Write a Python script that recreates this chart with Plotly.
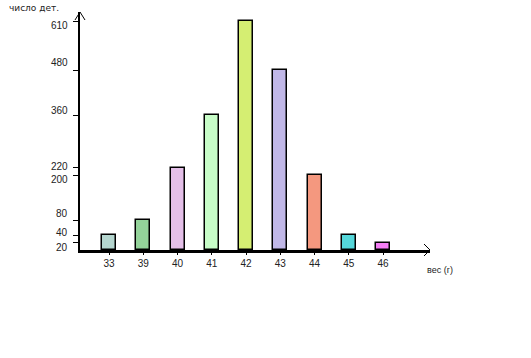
import plotly.graph_objects as go

categories = ["33", "39", "40", "41", "42", "43", "44", "45", "46"]
counts = [40, 80, 220, 360, 610, 480, 200, 40, 20]
colors = ["#b5d6cf", "#94d39a", "#e4bfe8", "#c8fdc8", "#d5ee72",
          "#c1b8e8", "#f4987f", "#55d7da", "#f57df5"]
ytick_vals = [20, 40, 80, 200, 220, 360, 480, 610]
ytick_text = ["20", "40", "80", "200", "220", "360", "480", "610"]
# small vertical nudges (px) of the labels, as placed in the original drawing
ytick_shift = [-5, 3, 7, -4, 1, 5, 8, -4]

xpos = list(range(len(categories)))

L, T, W, H = 80, 12, 350, 238
fig = go.Figure()
fig.add_trace(go.Bar(
    x=xpos, y=counts, width=0.41,
    marker=dict(color=colors, line=dict(color="black", width=1.5)),
    showlegend=False,
))

font = dict(family="Liberation Sans, Arial, sans-serif", size=10, color="#222")

fig.update_layout(
    width=531, height=358,
    margin=dict(l=L, r=531 - L - W, t=T, b=358 - T - H, pad=0),
    paper_bgcolor="white", plot_bgcolor="white",
    font=font,
    bargap=0,
    xaxis=dict(
        range=[-0.85, 9.37], tickvals=xpos, ticktext=categories,
        showgrid=False, zeroline=False, showline=True, linecolor="black", linewidth=3,
        ticks="outside", ticklen=2, tickcolor="black", tickwidth=1,
        tickfont=font,
    ),
    yaxis=dict(
        range=[0, 635], tickvals=ytick_vals, showticklabels=False,
        showgrid=False, zeroline=False, showline=True, linecolor="black", linewidth=2,
        ticks="outside", ticklen=5, tickcolor="black", tickwidth=1,
    ),
)

for v, t, s in zip(ytick_vals, ytick_text, ytick_shift):
    fig.add_annotation(text=t, xref="paper", yref="y", x=-10 / W, y=v,
                       xanchor="right", yanchor="middle", yshift=s,
                       showarrow=False, font=font)

def px(xp):
    return xp / W
def py(yp):
    return yp / H

# arrowheads (open chevrons)
fig.add_shape(type="path", xref="paper", yref="paper",
              path=f"M {px(-5)} {py(-8)+1} L 0 1 L {px(5)} {py(-8)+1}",
              line=dict(color="black", width=1))
fig.add_shape(type="path", xref="paper", yref="paper",
              path=f"M {1-px(6)} {py(6)} L 1 0 L {1-px(6)} {py(-6)}",
              line=dict(color="black", width=1))

fig.add_annotation(text="число дет.", xref="paper", yref="paper",
                   x=px(-73), y=1 + py(4), xanchor="left", yanchor="middle",
                   showarrow=False,
                   font=dict(family="DejaVu Sans, sans-serif", size=9, color="#222"))
fig.add_annotation(text="вес (г)", xref="paper", yref="paper",
                   x=1 + px(-5), y=py(-20), xanchor="left", yanchor="middle",
                   showarrow=False, font=dict(family=font["family"], size=9, color="#222"))

fig.write_html("out.html")
